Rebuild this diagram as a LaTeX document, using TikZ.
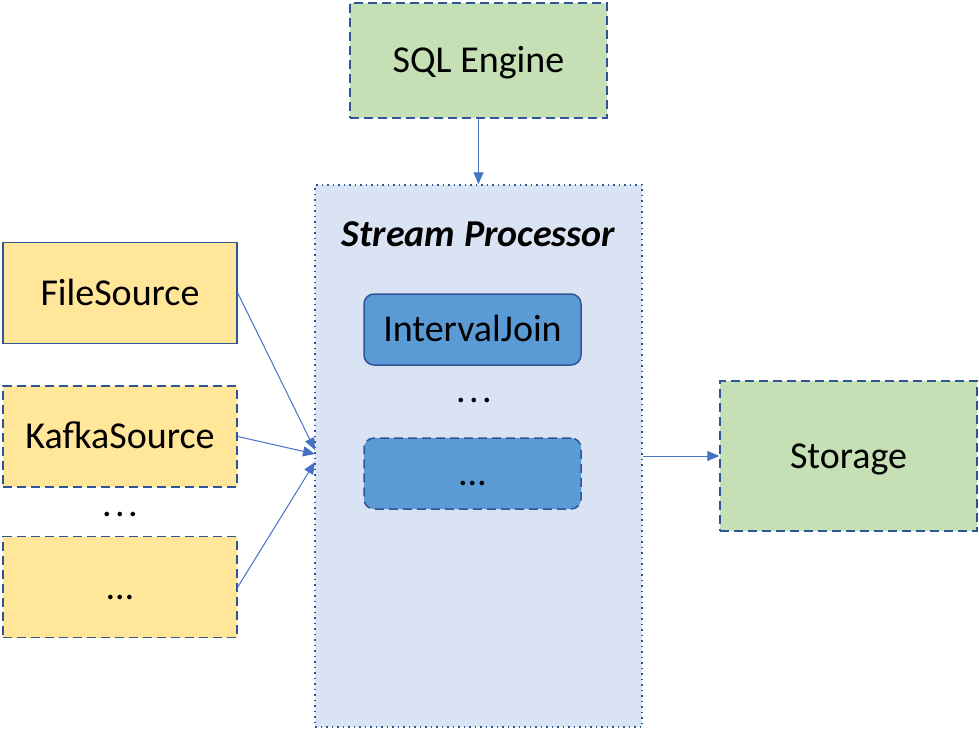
\documentclass[tikz,border=0pt]{standalone}
\usepackage{fontspec}
\setmainfont{Carlito}
\usepackage{tikz}
\usetikzlibrary{arrows.meta,positioning}
\definecolor{edgeblue}{HTML}{2F5597}
\definecolor{arrowblue}{HTML}{4472C4}
\definecolor{sqlgreen}{HTML}{C5E0B4}
\definecolor{procblue}{HTML}{DAE3F3}
\definecolor{opblue}{HTML}{5B9BD5}
\definecolor{srcyellow}{HTML}{FFE699}

\newcommand{\spreaddots}{.\hspace{1.7pt}.\hspace{1.7pt}.}

\begin{document}
\begin{tikzpicture}[x=0.5pt,y=-0.5pt,
    font=\fontsize{19}{22}\selectfont,
    box/.style={draw=edgeblue, line width=0.75pt, inner sep=0pt, text height=12.2pt, text depth=0pt},
    dashbox/.style={box, dash pattern=on 4.5pt off 2.5pt},
    srcbox/.style={fill=srcyellow, minimum width=117pt, minimum height=50.5pt},
    greenbox/.style={fill=sqlgreen, minimum width=128.5pt},
    opbox/.style={fill=opblue, rounded corners=5pt, minimum width=108.5pt, minimum height=35.5pt},
    link/.style={draw=arrowblue, line width=0.5pt, -{Triangle[length=6pt,width=5pt]}}]

  \useasboundingbox (0,0) rectangle (979,729);

  % ----- processador -----
  \node[box, dotted, fill=procblue, minimum width=163.5pt, minimum height=271pt] (proc) at (478.5,456) {};
  \node[font=\fontsize{19}{22}\selectfont\bfseries\itshape, text depth=0pt] (title) at (478.5,234) {Stream Processor};
  \node[box, opbox] (join) at (472.5,329.5) {IntervalJoin};
  \node (opdots) at (474,400) {\spreaddots};
  \node[dashbox, opbox] (opmore) at (472.5,473.5) {…};

  % ----- motor e armazenamento -----
  \node[dashbox, greenbox, minimum height=57.5pt] (sql) at (478.5,60.5) {SQL Engine};
  \node[dashbox, greenbox, minimum height=75pt] (store) at (848.5,456) {Storage};

  % ----- fontes -----
  \node[box, srcbox] (file) at (120,293) {FileSource};
  \node[dashbox, srcbox] (kafka) at (120,436.5) {KafkaSource};
  \node (srcdots) at (120,514) {\spreaddots};
  \node[dashbox, srcbox] (srcmore) at (120,587) {…};

  % ----- ligações -----
  \coordinate (inA) at (315,450);
  \coordinate (inB) at (315,454);
  \coordinate (inC) at (315,462);
  \draw[link] (sql.south) -- (proc.north);
  \draw[link] (file.east) -- (inA);
  \draw[link] (kafka.east) -- (inB);
  \draw[link] (srcmore.east) -- (inC);
  \draw[link] (proc.east) -- (store.west);

\end{tikzpicture}
\end{document}
